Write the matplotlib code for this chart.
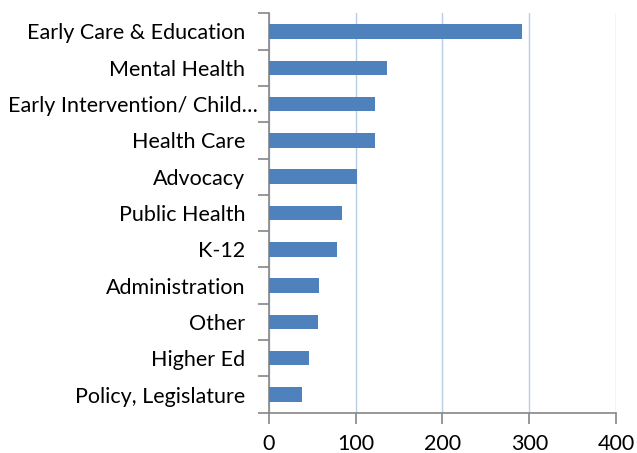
import matplotlib
matplotlib.use("Agg")
import matplotlib.pyplot as plt
import matplotlib.transforms as mtransforms

# categorias de arriba hacia abajo
categorias = ["Early Care & Education", "Mental Health", "Early Intervention/ Child\u2026",
              "Health Care", "Advocacy", "Public Health", "K-12", "Administration",
              "Other", "Higher Ed", "Policy, Legislature"]
valores = [292, 136, 122, 122, 102, 84, 78, 58, 56, 46, 38]
ticks_x = [0, 100, 200, 300, 400]

plt.rcParams['font.family'] = ['Lato', 'DejaVu Sans']

fig = plt.figure(figsize=(6.37, 4.53), dpi=100)
ax = fig.add_axes([0.4223, 0.089, 0.5447, 0.8816])

n = len(categorias)
pos = list(range(n))[::-1]
ax.barh(pos, valores, height=0.4, color="#4f81bd", zorder=3)

ax.set_xlim(0, 400)
ax.set_ylim(-0.5, n - 0.5)
ax.set_xticks(ticks_x)
ax.set_xticklabels([str(t) for t in ticks_x], fontsize=15.5)
ax.grid(axis="x", color="#b9cde5", linewidth=1, zorder=0)

# etiquetas y marcas entre categorias
ax.set_yticks(pos)
ax.set_yticklabels(categorias, fontsize=15.5)
ax.tick_params(axis="y", length=0, pad=17)
ax.set_yticks([i - 0.5 for i in range(n + 1)], minor=True)
ax.tick_params(axis="y", which="minor", length=8, color="#868686", width=1.2)
ax.tick_params(axis="x", length=8, color="#868686", width=1.2, pad=7)

# la etiqueta recortada sobresale un poco hacia la derecha
lbl = ax.get_yticklabels()[2]
lbl.set_transform(lbl.get_transform() + mtransforms.ScaledTranslation(0.12, 0, fig.dpi_scale_trans))

for s in ["top", "right"]:
    ax.spines[s].set_visible(False)
for s in ["left", "bottom"]:
    ax.spines[s].set_color("#868686")
    ax.spines[s].set_linewidth(1.2)

fig.savefig("out.png", dpi=100)
